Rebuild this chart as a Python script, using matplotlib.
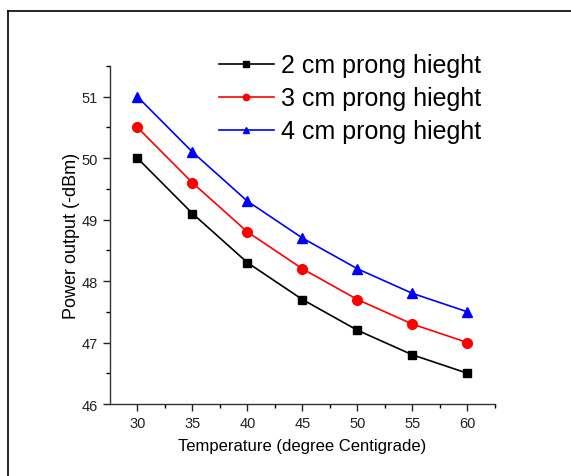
import matplotlib.pyplot as plt
from matplotlib.lines import Line2D

plt.rcParams['font.family'] = ['Liberation Sans', 'DejaVu Sans']

temps = [30, 35, 40, 45, 50, 55, 60]
p_2cm = [50.0, 49.1, 48.3, 47.7, 47.2, 46.8, 46.5]
p_3cm = [50.5, 49.6, 48.8, 48.2, 47.7, 47.3, 47.0]
p_4cm = [51.0, 50.1, 49.3, 48.7, 48.2, 47.8, 47.5]
labels = ['2 cm prong hieght', '3 cm prong hieght', '4 cm prong hieght']

fig = plt.figure(figsize=(5.71, 4.77), dpi=100)
ax = fig.add_axes([0.1926, 0.1509, 0.6743, 0.7086])

ax.plot(temps, p_2cm, color='black', marker='s', markersize=6, linewidth=1.2, label=labels[0])
ax.plot(temps, p_3cm, color='red', marker='o', markersize=7, linewidth=1.2, label=labels[1])
ax.plot(temps, p_4cm, color='blue', marker='^', markersize=7.5, linewidth=1.2, label=labels[2])

ax.set_xlim(27.5, 62.5)
ax.set_ylim(46, 51.5)
ax.set_xticks([30, 35, 40, 45, 50, 55, 60])
ax.set_xticks([32.5, 37.5, 42.5, 47.5, 52.5, 57.5, 62.5], minor=True)
ax.set_yticks([46, 47, 48, 49, 50, 51])
ax.set_yticks([46.5, 47.5, 48.5, 49.5, 50.5, 51.5], minor=True)

for s in ['top', 'right']:
    ax.spines[s].set_visible(False)
for s in ['left', 'bottom']:
    ax.spines[s].set_linewidth(1.0)
    ax.spines[s].set_color('#333333')
ax.tick_params(which='major', length=5, width=1, direction='out', labelsize=10.5, colors='#222222')
ax.tick_params(which='minor', length=3, width=1, direction='out')

ax.set_xlabel('Temperature (degree Centigrade)', fontsize=12, labelpad=6)
ax.set_ylabel('Power output (-dBm)', fontsize=13, labelpad=1.5)

leg = ax.legend(loc='upper left', bbox_to_anchor=(0.383, 0.886), bbox_transform=fig.transFigure,
                frameon=False, fontsize=18, numpoints=1, markerscale=0.65,
                handlelength=2.2, handletextpad=0.3, labelspacing=0.36, borderpad=0,
                borderaxespad=0)

# outer frame lines (left and top only)
fig.add_artist(Line2D([0.014, 0.014], [0.0, 0.975], transform=fig.transFigure, color='black', linewidth=1.2))
fig.add_artist(Line2D([0.014, 1.0], [0.975, 0.975], transform=fig.transFigure, color='black', linewidth=1.2))

fig.savefig('out.png', dpi=100)
